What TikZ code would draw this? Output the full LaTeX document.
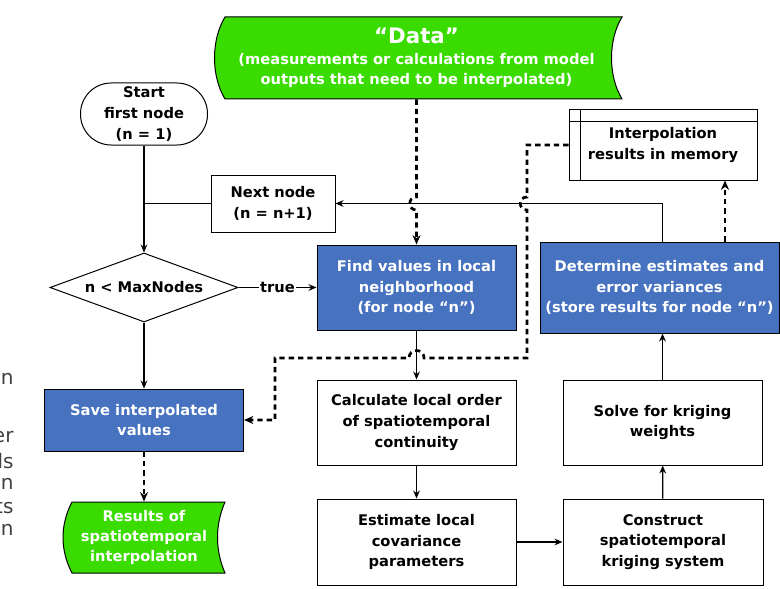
\documentclass[tikz,border=0pt]{standalone}
\usepackage{fontspec}
\setmainfont{DejaVu Sans}
\usetikzlibrary{shapes.geometric,arrows.meta,calc}

\definecolor{dataGreen}{RGB}{58,220,0}
\definecolor{stepBlue}{RGB}{70,114,192}
\definecolor{fragGray}{RGB}{64,64,64}

\tikzset{every picture/.style={line width=0.75pt}}
\tikzset{
	procbox/.style={draw, rectangle, minimum width=149.25pt, minimum height=63.75pt, align=center, inner sep=2pt, font=\bfseries\fontsize{11}{15.5}\selectfont},
	bluebox/.style={procbox, fill=stepBlue, text=white},
	greentext/.style={align=center, inner sep=0pt, text=white, font=\bfseries\fontsize{11}{15}\selectfont},
	arr/.style={-{Stealth[length=6pt,width=5pt]}, line width=1pt},
	dotarr/.style={-{Stealth[length=7pt,width=6pt]}, line width=2pt, dash pattern=on 4pt off 3pt},
	frag/.style={anchor=east, inner sep=0pt, text=fragGray, font=\fontsize{15}{17}\selectfont}}

\begin{document}
\begin{tikzpicture}[x=0.75pt,y=0.75pt,yscale=-1,xscale=1]
	\useasboundingbox (0,0) rectangle (780,588);

	%Shape: Stored Data [id:data]
	\draw [fill=dataGreen] (225,17) -- (622,17) .. controls (608,40) and (608,76) .. (622,99) -- (225,99) .. controls (211,76) and (211,40) .. (225,17) -- cycle ;
	%Shape: Stored Data [id:results]
	\draw [fill=dataGreen] (72,502) -- (225,502) .. controls (215,525) and (215,550) .. (225,573) -- (72,573) .. controls (60,550) and (60,525) .. (72,502) -- cycle ;

	% Text Node
	\node [greentext, minimum width=285pt, minimum height=61.5pt] (data) at (416.5,58) {{\fontsize{16}{18}\selectfont “Data”}\\[1pt] (measurements or calculations from model\\ outputs that need to be interpolated)};
	% Text Node
	\node [greentext, minimum height=53.25pt] (results) at (144,537.5) {Results of\\ spatiotemporal\\ interpolation};

	%Shape: Terminator [id:start]
	\node [procbox, rounded corners=23pt, minimum width=95.25pt, minimum height=46.5pt] (start) at (144,114) {Start\\ first node\\ (n = 1)};
	%Shape: Rectangle [id:next]
	\node [procbox, minimum width=93pt, minimum height=42.75pt] (next) at (273,203.5) {Next node\\ (n = n+1)};
	%Shape: Diamond [id:dec]
	\node [procbox, diamond, aspect=2.7, minimum width=141pt, minimum height=51.75pt, inner sep=0pt] (dec) at (144,287.5) {n < MaxNodes};
	%Shape: Rectangle [id:save]
	\node [bluebox, minimum height=46.5pt] (save) at (144,420) {Save interpolated\\ values};

	\node [bluebox] (find) at (416.5,287.5) {Find values in local\\ neighborhood\\ (for node “n”)};
	\node [procbox] (calc) at (416.5,422.5) {Calculate local order\\ of spatiotemporal\\ continuity};
	\node [procbox, minimum height=64.5pt] (est) at (416.5,542) {Estimate local\\ covariance\\ parameters};
	\node [procbox, minimum width=150pt, minimum height=64.5pt] (cons) at (663,542) {Construct\\ spatiotemporal\\ kriging system};
	\node [procbox] (solve) at (662.5,422.5) {Solve for kriging\\ weights};
	\node [bluebox, minimum width=179.25pt, minimum height=68.25pt] (determine) at (659.5,287.5) {Determine estimates and\\ error variances\\ (store results for node “n”)};

	%Shape: Internal Storage [id:interp]
	\node [procbox, minimum width=141pt, minimum height=52.5pt] (interp) at (663,145) {Interpolation\\ results in memory};
	\draw ($(interp.north west)+(12,0)$) -- ($(interp.south west)+(12,0)$);
	\draw ($(interp.north west)+(0,12)$) -- ($(interp.north east)+(0,12)$);

	\coordinate (storeX) at (725,0);

	% solid flow
	\draw [arr] (start) -- (dec);
	\draw (next.west) -- (next.west -| start);
	\draw [arr] (dec) -- node [fill=white, inner sep=1pt, font=\bfseries\fontsize{11}{13}\selectfont] {true} (find);
	\draw [arr] (dec) -- (save);
	\draw [arr] (find) -- (calc);
	\draw [arr] (calc) -- (est);
	\draw [arr] (est) -- (cons);
	\draw [arr] (cons) -- (solve);
	\draw [arr] (solve) -- (solve |- determine.south);
	\draw [arr] (solve |- determine.north) |- (next.east);

	% dotted data flow
	\draw [dotarr] (data.south) -- (416.5,197) .. controls (407.5,197) and (407.5,210) .. (416.5,210) -- (find.north);
	\draw [dotarr] (determine.north -| storeX) -- (interp.south -| storeX);
	\draw [dotarr] (interp.west) -- (527,145) -- (527,197) .. controls (518,197) and (518,210) .. (527,210) -- (527,358) -- (424,358) .. controls (424,348) and (409,348) .. (409,358) -- (275,358) |- (save.east);
	\draw [dotarr] (save) -- (results);

	% Text Node (cut off at left edge)
	\node [frag] (fragA) at (14,379) {on};
	\node [frag] (fragB) at (14,437) {er};
	\node [frag] (fragC) at (14,461) {ls};
	\node [frag] (fragD) at (14,484) {n};
	\node [frag] (fragE) at (14,507) {ts};
	\node [frag] (fragF) at (14,530) {n};

\end{tikzpicture}
\end{document}
